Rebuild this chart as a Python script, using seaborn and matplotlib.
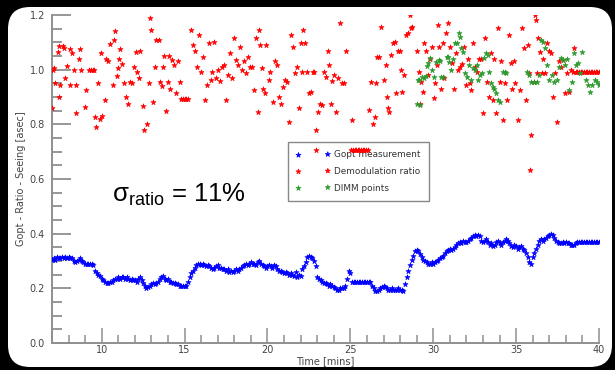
import numpy as np
import pandas as pd
import matplotlib
matplotlib.use("Agg")
import matplotlib.pyplot as plt
from matplotlib.patches import FancyBboxPatch
from matplotlib.transforms import IdentityTransform
from matplotlib.ticker import MultipleLocator, FormatStrFormatter
import seaborn as sns

# ---------------------------------------------------------------- data
# Gopt seeing measurement, one sample every 0.1 min starting at t = 7.0 min
gopt_start = 7.0
gopt_step = 0.1
gopt_seeing = [
    0.305, 0.31, 0.305, 0.315, 0.31, 0.31, 0.315, 0.31, 0.315, 0.31,      # 7
    0.315, 0.31, 0.31, 0.3, 0.295, 0.3, 0.305, 0.31, 0.3, 0.295,          # 8
    0.29, 0.29, 0.29, 0.29, 0.29, 0.285, 0.265, 0.255, 0.25, 0.245,       # 9
    0.235, 0.23, 0.225, 0.22, 0.22, 0.225, 0.225, 0.23, 0.235, 0.235,     # 10
    0.24, 0.235, 0.24, 0.24, 0.235, 0.24, 0.235, 0.23, 0.235, 0.23,       # 11
    0.23, 0.225, 0.235, 0.24, 0.23, 0.22, 0.21, 0.2, 0.205, 0.21,         # 12
    0.215, 0.22, 0.215, 0.22, 0.225, 0.235, 0.24, 0.245, 0.235, 0.23,     # 13
    0.235, 0.225, 0.225, 0.22, 0.22, 0.215, 0.215, 0.21, 0.21, 0.21,      # 14
    0.21, 0.21, 0.225, 0.24, 0.255, 0.265, 0.275, 0.285, 0.29, 0.29,      # 15
    0.285, 0.29, 0.285, 0.28, 0.285, 0.28, 0.275, 0.27, 0.275, 0.28,      # 16
    0.285, 0.275, 0.275, 0.27, 0.27, 0.265, 0.27, 0.26, 0.265, 0.26,      # 17
    0.265, 0.27, 0.265, 0.27, 0.275, 0.28, 0.285, 0.29, 0.285, 0.29,      # 18
    0.295, 0.29, 0.29, 0.285, 0.295, 0.3, 0.29, 0.285, 0.28, 0.275,       # 19
    0.28, 0.285, 0.28, 0.275, 0.285, 0.28, 0.27, 0.265, 0.265, 0.26,      # 20
    0.255, 0.26, 0.255, 0.25, 0.255, 0.25, 0.245, 0.26, 0.24, 0.25,       # 21
    0.245, 0.27, 0.28, 0.295, 0.315, 0.32, 0.315, 0.31, 0.3, 0.28,        # 22
    0.24, 0.235, 0.23, 0.225, 0.22, 0.22, 0.215, 0.21, 0.215, 0.21,       # 23
    0.205, 0.2, 0.195, 0.195, 0.2, 0.2, 0.2, 0.21, 0.235, 0.265,          # 24
    0.255, 0.225, 0.225, 0.225, 0.225, 0.225, 0.225, 0.225, 0.225, 0.225, # 25
    0.225, 0.225, 0.225, 0.21, 0.2, 0.19, 0.19, 0.195, 0.2, 0.205,        # 26
    0.21, 0.205, 0.2, 0.195, 0.195, 0.2, 0.195, 0.195, 0.195, 0.2,        # 27
    0.195, 0.195, 0.19, 0.215, 0.24, 0.265, 0.285, 0.305, 0.32, 0.335,    # 28
    0.34, 0.335, 0.325, 0.315, 0.305, 0.3, 0.295, 0.29, 0.29, 0.295,      # 29
    0.29, 0.295, 0.3, 0.305, 0.31, 0.315, 0.32, 0.33, 0.335, 0.34,        # 30
    0.345, 0.34, 0.345, 0.35, 0.36, 0.365, 0.37, 0.365, 0.375, 0.37,      # 31
    0.37, 0.375, 0.38, 0.385, 0.39, 0.395, 0.39, 0.395, 0.39, 0.375,      # 32
    0.37, 0.375, 0.38, 0.37, 0.36, 0.365, 0.355, 0.36, 0.37, 0.375,       # 33
    0.365, 0.36, 0.37, 0.375, 0.38, 0.375, 0.365, 0.355, 0.35, 0.36,      # 34
    0.355, 0.345, 0.35, 0.355, 0.345, 0.34, 0.33, 0.315, 0.295, 0.29,     # 35
    0.315, 0.33, 0.345, 0.36, 0.375, 0.38, 0.375, 0.38, 0.385, 0.39,      # 36
    0.395, 0.4, 0.395, 0.385, 0.375, 0.37, 0.365, 0.365, 0.37, 0.365,     # 37
    0.37, 0.365, 0.365, 0.36, 0.36, 0.36, 0.365, 0.368, 0.368, 0.368,     # 38
    0.368, 0.368, 0.368, 0.368, 0.368, 0.368, 0.368, 0.368, 0.368, 0.368, # 39
    0.368,                                                                # 40
]

# Demodulation ratio (time in min, ratio)
ratio_t = [
    7.0, 7.05, 7.15, 7.2, 7.35, 7.4, 7.45, 7.5, 7.65, 7.7, 7.8, 7.9,
    8.07, 8.1, 8.2, 8.3, 8.42, 8.47, 8.6, 8.7, 8.77,
    9.0, 9.08, 9.25, 9.37, 9.49, 9.56, 9.6, 9.67, 9.79, 9.88, 9.95,
    10.02, 10.19, 10.26, 10.38, 10.5, 10.66, 10.73, 10.8, 10.9, 10.97,
    11.02, 11.13, 11.25, 11.37, 11.48, 11.6, 11.72, 11.84, 11.96,
    12.08, 12.15, 12.24, 12.32, 12.48, 12.55, 12.72, 12.86, 12.9, 12.98,
    13.09, 13.21, 13.3, 13.44, 13.49, 13.61, 13.68, 13.78, 13.85, 13.97,
    14.04, 14.13, 14.25, 14.37, 14.49, 14.6, 14.7, 14.8, 14.9,
    15.0, 15.1, 15.18, 15.38, 15.5, 15.62, 15.74, 15.86, 15.98,
    16.1, 16.21, 16.33, 16.45, 16.57, 16.68, 16.8, 16.92,
    17.04, 17.15, 17.27, 17.39, 17.51, 17.62, 17.74, 17.86, 17.98,
    18.1, 18.22, 18.34, 18.45, 18.57, 18.69, 18.81, 18.93,
    19.05, 19.16, 19.28, 19.4, 19.47, 19.57, 19.68, 19.75, 19.87, 19.94,
    20.11, 20.18, 20.35, 20.46, 20.58, 20.7, 20.82, 20.94,
    21.06, 21.17, 21.29, 21.41, 21.53, 21.65, 21.77, 21.88,
    22.0, 22.07, 22.17, 22.29, 22.36, 22.48, 22.6, 22.72, 22.83, 22.93, 22.95,
    23.07, 23.19, 23.31, 23.43, 23.54, 23.66, 23.73, 23.83, 23.92,
    24.02, 24.13, 24.25, 24.36, 24.48, 24.6, 24.72,
    25.05, 25.07, 25.15, 25.25, 25.35, 25.45, 25.55, 25.65, 25.75, 25.85, 25.95, 26.05,
    26.14, 26.26, 26.38, 26.5, 26.54, 26.61, 26.73, 26.84,
    27.03, 27.12, 27.2, 27.27, 27.36, 27.43, 27.55, 27.67, 27.74, 27.86, 27.98,
    28.07, 28.14, 28.26, 28.38, 28.5, 28.62, 28.66, 28.73,
    29.0, 29.12, 29.19, 29.28, 29.4, 29.47, 29.59, 29.7, 29.82, 29.94,
    30.06, 30.13, 30.22, 30.29, 30.36, 30.46, 30.58, 30.65, 30.77, 30.89,
    31.0, 31.12, 31.24, 31.36, 31.48, 31.6, 31.71, 31.83, 31.95,
    32.07, 32.19, 32.3, 32.42, 32.54, 32.66, 32.78, 32.9,
    33.02, 33.13, 33.25, 33.37, 33.49, 33.6, 33.68, 33.77, 33.91,
    34.01, 34.08, 34.2, 34.32, 34.44, 34.55, 34.67, 34.74, 34.86, 34.95,
    35.14, 35.26, 35.38, 35.5, 35.62, 35.73, 35.8, 35.85, 35.9,
    36.08, 36.13, 36.2, 36.25, 36.34, 36.46, 36.58, 36.65, 36.77, 36.88,
    37.0, 37.12, 37.24, 37.36, 37.48, 37.6, 37.72, 37.83, 37.95,
    38.07, 38.19, 38.31, 38.43, 38.5,
    38.6, 38.7, 38.8, 38.9, 39.0, 39.1, 39.2, 39.3, 39.4, 39.5,
    39.6, 39.7, 39.8, 39.9, 40.0,
]
ratio_v = [
    0.86, 1.0, 1.005, 0.95, 1.065, 0.9, 1.085, 0.945, 1.085, 1.08, 0.97, 1.015,
    1.075, 0.945, 1.06, 1.0, 0.84, 0.945, 1.04, 1.075, 1.0,
    0.865, 0.925, 1.0, 1.0, 1.0, 1.0, 0.825, 0.79, 0.95, 0.82, 1.06,
    0.83, 0.89, 1.04, 1.03, 1.095, 0.945, 1.11, 1.14, 0.975, 1.005,
    1.04, 1.075, 1.02, 0.95, 0.9, 0.876, 0.955, 0.95, 1.01,
    1.065, 0.99, 0.97, 1.07, 0.866, 0.78, 0.8, 0.95, 1.19, 1.145,
    0.88, 1.01, 1.11, 1.11, 0.955, 0.94, 1.01, 1.05, 0.85, 0.955,
    1.05, 0.93, 1.035, 1.017, 0.913, 1.03, 0.955, 0.893, 0.893,
    0.893, 0.893, 0.893, 1.145, 1.09, 1.07, 1.01, 1.127, 0.99,
    1.047, 0.889, 0.944, 1.096, 0.962, 0.99, 1.1, 0.968,
    1.0, 0.96, 1.01, 1.017, 0.889, 0.98, 1.06, 0.97, 1.115,
    1.035, 1.017, 1.084, 1.0, 1.03, 0.986, 1.047, 1.01,
    1.01, 0.925, 1.115, 0.846, 1.145, 1.09, 1.005, 0.93, 0.913, 1.09,
    0.962, 0.99, 0.883, 1.03, 1.017, 0.9, 0.876, 0.937,
    0.962, 0.955, 0.81, 1.127, 1.084, 0.986, 1.01, 0.858,
    1.096, 0.99, 1.145, 1.096, 0.99, 0.913, 0.92, 0.99, 0.99, 0.705, 0.78,
    0.846, 0.876, 0.87, 0.99, 0.974, 1.07, 1.017, 0.876, 0.96,
    0.98, 0.846, 0.97, 1.17, 0.95, 0.95, 1.07,
    0.705, 0.815, 0.705, 0.705, 0.705, 0.705, 0.705, 0.705, 0.705, 0.705, 0.705, 0.705,
    0.852, 0.955, 0.803, 0.828, 0.95, 1.047, 1.047, 1.157,
    0.962, 1.017, 0.9, 0.858, 0.846, 1.053, 1.096, 1.102, 0.913, 1.07, 1.07,
    1.0, 0.92, 0.98, 1.127, 1.133, 1.2, 1.151, 1.157,
    1.07, 0.99, 0.876, 0.955, 0.92, 1.096, 1.07, 0.98, 1.04, 1.084,
    0.895, 0.95, 1.017, 1.163, 1.084, 0.93, 1.096, 0.968, 1.133, 1.17,
    1.084, 1.023, 0.93, 1.06, 1.0, 1.01, 1.02, 1.084, 0.944,
    1.04, 0.95, 0.925, 1.096, 1.01, 0.99, 1.04, 1.04,
    0.84, 1.115, 0.955, 0.9, 1.06, 0.889, 1.04, 0.84, 1.151,
    0.955, 1.03, 0.815, 0.95, 0.889, 1.127, 1.023, 0.93, 1.03, 0.95,
    0.815, 0.925, 1.151, 1.078, 0.889, 1.09, 0.986, 0.632, 0.76,
    0.955, 1.2, 1.18, 0.986, 1.115, 1.066, 0.986, 1.04, 0.986, 1.096,
    1.07, 1.06, 0.9, 0.986, 0.81, 1.03, 1.01, 1.035, 0.913,
    0.986, 0.92, 1.0, 0.99, 1.078,
    0.993, 0.993, 0.993, 0.993, 0.993, 0.993, 0.993, 0.993, 0.993, 0.993,
    0.993, 0.993, 0.993, 0.993, 0.993,
]

# DIMM seeing points (time in min, seeing)
dimm_t = [
    29.03, 29.1, 29.14, 29.19, 29.31, 29.43, 29.54, 29.62, 29.71, 29.83, 29.9,
    30.02, 30.14, 30.32, 30.42, 30.49, 30.61, 30.8, 30.89, 30.96,
    31.08, 31.2, 31.32, 31.43, 31.55, 31.6, 31.67, 31.79, 31.91,
    32.02, 32.14, 32.26, 32.38, 32.5, 32.61, 32.73, 32.85, 32.97,
    33.09, 33.16, 33.28, 33.39, 33.49, 33.58, 33.68, 33.79, 33.91,
    34.03, 34.2, 34.3, 34.38,
    35.64, 35.8, 35.92, 36.08, 36.23, 36.39, 36.51, 36.63, 36.75, 36.86, 36.98,
    37.17, 37.26, 37.45, 37.57, 37.69, 37.81, 37.93,
    38.04, 38.21, 38.4, 38.52, 38.63, 38.75, 38.87, 38.99,
    39.22, 39.34, 39.46, 39.58, 39.77, 39.86, 40.0,
]
dimm_v = [
    0.874, 0.962, 0.964, 0.87, 0.972, 0.97, 0.977, 1.013, 1.023, 1.041, 0.999,
    0.974, 1.029, 1.035, 1.033, 0.974, 0.974, 1.047, 1.045, 1.029,
    0.999, 1.04, 1.096, 1.096, 1.133, 1.12, 1.078, 1.066, 0.986,
    0.974, 1.017, 0.962, 1.005, 1.0, 1.017, 0.962, 0.98, 0.986,
    1.041, 1.06, 1.053, 0.992, 0.95, 0.937, 0.931, 0.913, 0.889,
    0.883, 0.992, 0.99, 0.986,
    0.992, 0.98, 0.956, 0.956, 0.956, 0.98, 1.108, 1.102, 1.078, 1.017, 0.962,
    0.98, 0.956, 0.962, 1.011, 1.041, 1.035, 1.017,
    1.04, 0.925, 0.956, 1.06, 1.017, 1.023, 0.986, 1.066,
    0.962, 0.944, 0.919, 0.944, 0.962, 0.956, 0.944,
]

series_labels = ["Gopt measurement", "Demodulation ratio", "DIMM points"]
series_colors = ["#0000ff", "#ff0000", "#2e9a2e"]

x_ticks = [10, 15, 20, 25, 30, 35, 40]
x_label = "Time [mins]"
y_label = "Gopt - Ratio - Seeing [asec]"
sigma_text = r"$\mathrm{σ}_{\mathrm{ratio}}$ = 11%"

# ---------------------------------------------------------------- frames
gopt_t = gopt_start + gopt_step * np.arange(len(gopt_seeing))
frames = [
    pd.DataFrame({"t": gopt_t, "v": gopt_seeing}),
    pd.DataFrame({"t": ratio_t, "v": ratio_v}),
    pd.DataFrame({"t": dimm_t, "v": dimm_v}),
]

# ---------------------------------------------------------------- style
sns.set_style("white")
plt.rcParams["font.family"] = ["DejaVu Sans"]
plt.rcParams["mathtext.fontset"] = "custom"
plt.rcParams["mathtext.rm"] = "Liberation Sans"
plt.rcParams["mathtext.it"] = "Liberation Sans:italic"

W, H = 615, 370
fig = plt.figure(figsize=(W / 100, H / 100), dpi=100, facecolor="black")

# rounded white panel on the black background (pixel coordinates)
panel = FancyBboxPatch((8, 3), 604, 360,
                       boxstyle="round,pad=0,rounding_size=22",
                       transform=IdentityTransform(),
                       facecolor="white", edgecolor="none", zorder=0)
fig.add_artist(panel)

ax = fig.add_axes([52 / W, 27 / H, 547 / W, 328 / H])
ax.set_facecolor("white")

for df, lab, col in zip(frames, series_labels, series_colors):
    sns.scatterplot(data=df, x="t", y="v", ax=ax, marker="*", s=15,
                    color=col, edgecolor=col, linewidth=0.45,
                    label=lab, zorder=3)

ax.set_xlim(7, 40)
ax.set_ylim(0, 1.2)

spine_col = "#8f8f8f"
for side in ("top", "right"):
    ax.spines[side].set_visible(False)
for side in ("left", "bottom"):
    ax.spines[side].set_color(spine_col)
    ax.spines[side].set_linewidth(1.4)

ax.set_xticks(x_ticks)
ax.xaxis.set_minor_locator(MultipleLocator(1))
ax.yaxis.set_major_locator(MultipleLocator(0.2))
ax.yaxis.set_minor_locator(MultipleLocator(0.05))
ax.yaxis.set_major_formatter(FormatStrFormatter("%.1f"))

ax.tick_params(axis="both", which="both", left=True, bottom=True,
               top=False, right=False)
ax.tick_params(axis="y", which="major", direction="in", length=13.5, width=1.3,
               color=spine_col, labelsize=7, labelcolor="#444444", pad=5)
ax.tick_params(axis="y", which="minor", direction="in", length=7, width=1.3,
               color=spine_col)
ax.tick_params(axis="x", which="major", direction="in", length=11, width=1.1,
               color=spine_col, labelsize=7, labelcolor="#444444", pad=1.5)
ax.tick_params(axis="x", which="minor", direction="in", length=5.5, width=1.1,
               color=spine_col)

ax.set_xlabel(x_label, fontsize=7, color="#444444", labelpad=0.5)
ax.set_ylabel(y_label, fontsize=7, color="#444444", labelpad=3)

leg = ax.legend(loc="upper left", bbox_to_anchor=(0.423, 0.625),
                scatterpoints=2, fontsize=6.4, frameon=True, fancybox=False,
                framealpha=1, edgecolor="#888888", handlelength=3.9,
                handletextpad=0.4, labelspacing=0.85, borderpad=0.9)
leg.get_frame().set_linewidth(1.0)
for txt in leg.get_texts():
    txt.set_color("#333333")
leg.set_zorder(1.5)

ax.text(10.6, 0.517, sigma_text, fontsize=18.5, family="Liberation Sans",
        color="black", va="baseline", ha="left")

fig.savefig("out.png", dpi=100, facecolor="black")
